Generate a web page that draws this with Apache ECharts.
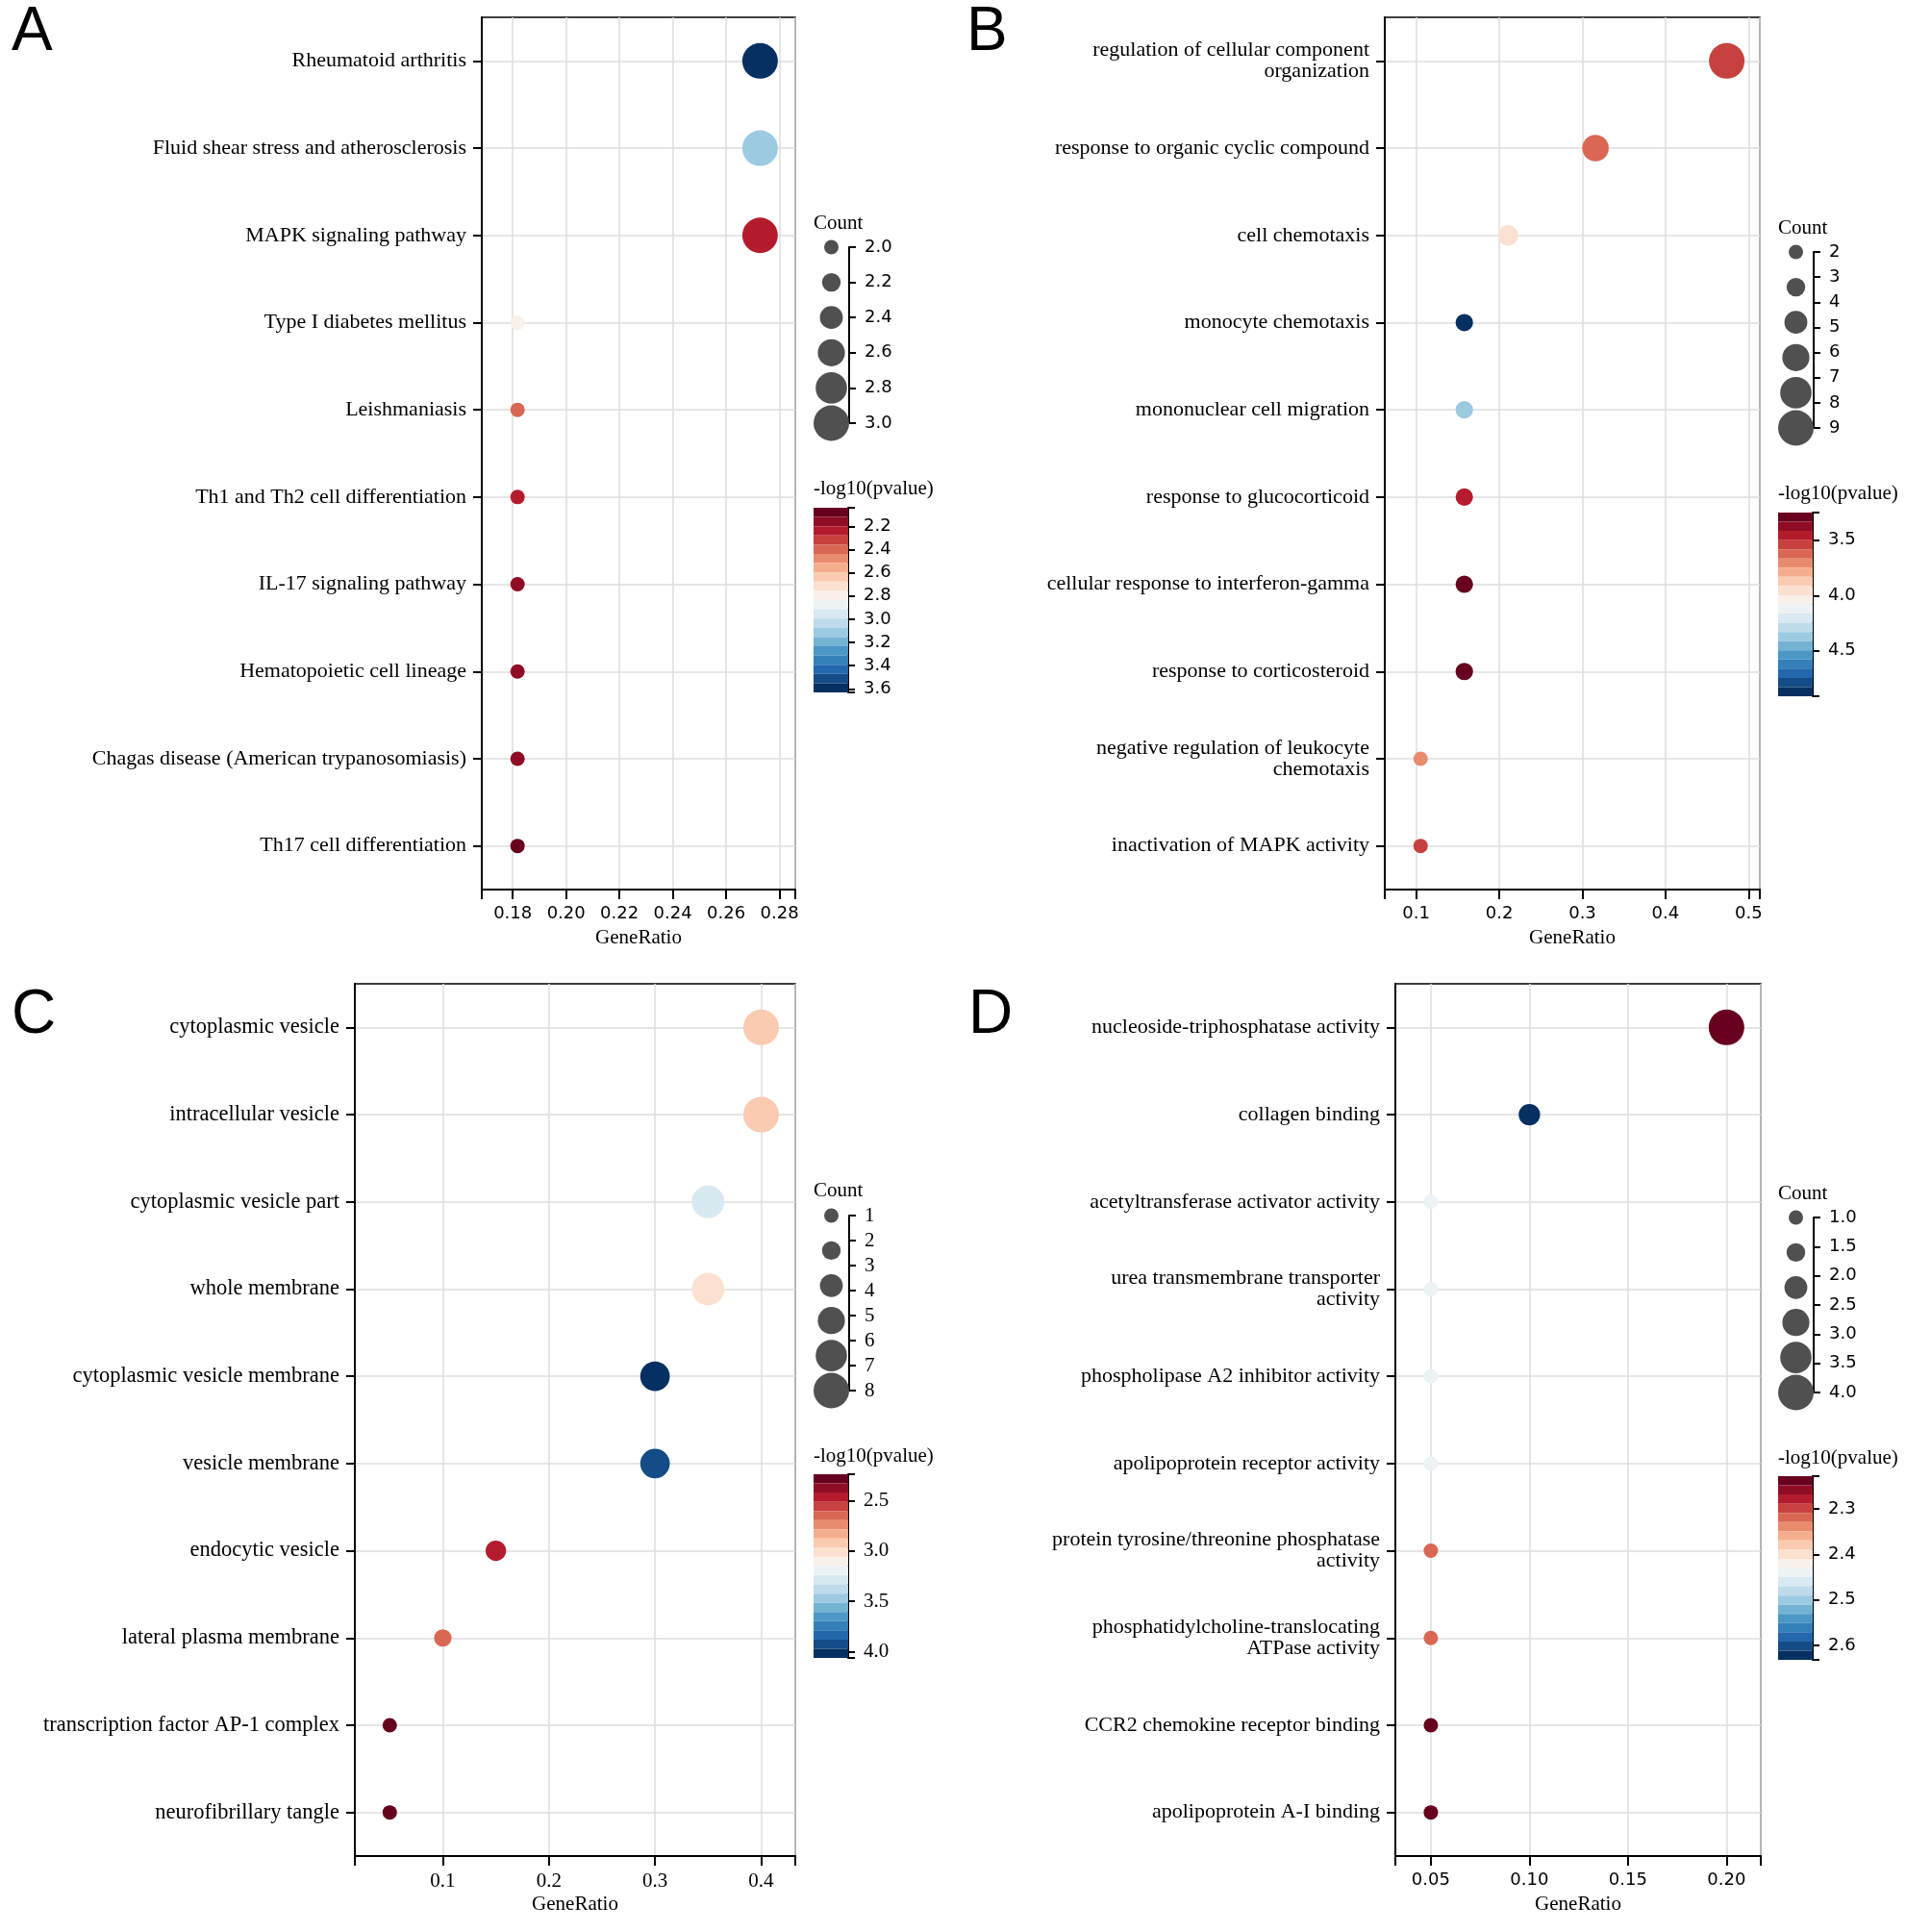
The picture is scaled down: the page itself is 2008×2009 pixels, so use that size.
<!DOCTYPE html>
<html>
<head>
<meta charset="utf-8">
<script src="https://cdn.jsdelivr.net/npm/echarts@6/dist/echarts.min.js"></script>
<style>
  html, body { margin: 0; padding: 0; background: #fff; }
  #chart { width: 2008px; height: 2009px; }
</style>
</head>
<body>
<div id="chart"></div>
<script>
// ---- panel A (KEGG) ----
const termsA = ['Rheumatoid arthritis', 'Fluid shear stress and atherosclerosis', 'MAPK signaling pathway',
  'Type I diabetes mellitus', 'Leishmaniasis', 'Th1 and Th2 cell differentiation', 'IL-17 signaling pathway',
  'Hematopoietic cell lineage', 'Chagas disease (American trypanosomiasis)', 'Th17 cell differentiation'];
const ratioA = [0.2727, 0.2727, 0.2727, 0.1818, 0.1818, 0.1818, 0.1818, 0.1818, 0.1818, 0.1818];
const countA = [3, 3, 3, 2, 2, 2, 2, 2, 2, 2];
const logpA = [3.63, 3.11, 2.22, 2.80, 2.37, 2.20, 2.19, 2.15, 2.13, 2.04];
const xTicksA = [0.18, 0.20, 0.22, 0.24, 0.26, 0.28];
const countTicksA = [2.0, 2.2, 2.4, 2.6, 2.8, 3.0];
const countKeysA = [2.0, 2.2, 2.4, 2.6, 2.8, 3.0];
const cbTicksA = [2.2, 2.4, 2.6, 2.8, 3.0, 3.2, 3.4, 3.6];

// ---- panel B (GO BP) ----
const termsB = ['regulation of cellular component\norganization', 'response to organic cyclic compound', 'cell chemotaxis',
  'monocyte chemotaxis', 'mononuclear cell migration', 'response to glucocorticoid',
  'cellular response to interferon-gamma', 'response to corticosteroid',
  'negative regulation of leukocyte\nchemotaxis', 'inactivation of MAPK activity'];
const ratioB = [0.4737, 0.3158, 0.2105, 0.1579, 0.1579, 0.1579, 0.1579, 0.1579, 0.1053, 0.1053];
const countB = [9, 6, 4, 3, 3, 3, 3, 3, 2, 2];
const logpB = [3.50, 3.63, 3.92, 4.91, 4.37, 3.42, 3.29, 3.25, 3.72, 3.53];
const xTicksB = [0.1, 0.2, 0.3, 0.4, 0.5];
const countTicksB = [2, 3, 4, 5, 6, 7, 8, 9];
const countKeysB = [2, 3.4, 4.8, 6.2, 7.6, 9];
const cbTicksB = [3.5, 4.0, 4.5];

// ---- panel C (GO CC) ----
const termsC = ['cytoplasmic vesicle', 'intracellular vesicle', 'cytoplasmic vesicle part', 'whole membrane',
  'cytoplasmic vesicle membrane', 'vesicle membrane', 'endocytic vesicle', 'lateral plasma membrane',
  'transcription factor AP-1 complex', 'neurofibrillary tangle'];
const ratioC = [0.40, 0.40, 0.35, 0.35, 0.30, 0.30, 0.15, 0.10, 0.05, 0.05];
const countC = [8, 8, 7, 7, 6, 6, 3, 2, 1, 1];
const logpC = [2.92, 2.92, 3.25, 3.05, 4.06, 3.93, 2.45, 2.68, 2.24, 2.24];
const xTicksC = [0.1, 0.2, 0.3, 0.4];
const countTicksC = [1, 2, 3, 4, 5, 6, 7, 8];
const countKeysC = [1, 2.4, 3.8, 5.2, 6.6, 8];
const cbTicksC = [2.5, 3.0, 3.5, 4.0];

// ---- panel D (GO MF) ----
const termsD = ['nucleoside-triphosphatase activity', 'collagen binding', 'acetyltransferase activator activity',
  'urea transmembrane transporter\nactivity', 'phospholipase A2 inhibitor activity', 'apolipoprotein receptor activity',
  'protein tyrosine/threonine phosphatase\nactivity', 'phosphatidylcholine-translocating\nATPase activity',
  'CCR2 chemokine receptor binding', 'apolipoprotein A-I binding'];
const ratioD = [0.20, 0.10, 0.05, 0.05, 0.05, 0.05, 0.05, 0.05, 0.05, 0.05];
const countD = [4, 2, 1, 1, 1, 1, 1, 1, 1, 1];
const logpD = [2.228, 2.632, 2.44, 2.44, 2.44, 2.44, 2.31, 2.31, 2.235, 2.235];
const xTicksD = [0.05, 0.10, 0.15, 0.20];
const countTicksD = [1.0, 1.5, 2.0, 2.5, 3.0, 3.5, 4.0];
const countKeysD = [1.0, 1.6, 2.2, 2.8, 3.4, 4.0];
const cbTicksD = [2.3, 2.4, 2.5, 2.6];

const rdbu = ['#67001f', '#b2182b', '#d6604d', '#f4a582', '#fddbc7', '#f7f7f7',
  '#d1e5f0', '#92c5de', '#4393c3', '#2166ac', '#053061'];
const SERIF = 'Liberation Serif';
const SANS = 'DejaVu Sans';

const panels = [
  { letter: 'A', terms: termsA, ratio: ratioA, count: countA, logp: logpA,
    xTicks: xTicksA, countTicks: countTicksA, countKeys: countKeysA, cbTicks: cbTicksA,
    grid: { left: 501, top: 18, width: 326, height: 907 }, xRange: [0.1684, 0.2859], xDigits: 2, countDigits: 1,
    tickFont: SANS, termSize: 22, lx: 846, countTop: 257, countH: 183, cbTop: 528, cbH: 192, countTitle: 232, cbTitle: 508,
    letterX: 12, letterY: 34 },
  { letter: 'B', terms: termsB, ratio: ratioB, count: countB, logp: logpB,
    xTicks: xTicksB, countTicks: countTicksB, countKeys: countKeysB, cbTicks: cbTicksB,
    grid: { left: 1440, top: 18, width: 390, height: 907 }, xRange: [0.0622, 0.5135], xDigits: 1, countDigits: 0,
    tickFont: SANS, termSize: 22, lx: 1849, countTop: 262, countH: 183, cbTop: 533, cbH: 191, countTitle: 237, cbTitle: 513,
    letterX: 1005, letterY: 34 },
  { letter: 'C', terms: termsC, ratio: ratioC, count: countC, logp: logpC,
    xTicks: xTicksC, countTicks: countTicksC, countKeys: countKeysC, cbTicks: cbTicksC,
    grid: { left: 369, top: 1023, width: 458, height: 907 }, xRange: [0.0171, 0.4322], xDigits: 1, countDigits: 0,
    tickFont: SERIF, termSize: 22.5, lx: 846, countTop: 1264, countH: 182, cbTop: 1533, cbH: 191, countTitle: 1238, cbTitle: 1514,
    letterX: 12, letterY: 1056 },
  { letter: 'D', terms: termsD, ratio: ratioD, count: countD, logp: logpD,
    xTicks: xTicksD, countTicks: countTicksD, countKeys: countKeysD, cbTicks: cbTicksD,
    grid: { left: 1451, top: 1023, width: 380, height: 907 }, xRange: [0.032, 0.2174], xDigits: 2, countDigits: 1,
    tickFont: SANS, termSize: 22, lx: 1849, countTop: 1266, countH: 182, cbTop: 1535, cbH: 191, countTitle: 1241, cbTitle: 1516,
    letterX: 1007, letterY: 1056 }
];

const grid = [], xAxis = [], yAxis = [], series = [], visualMap = [], graphic = [];
const black = '#000';

panels.forEach(function (p) {
  const cMin = Math.min.apply(null, p.count), cMax = Math.max.apply(null, p.count);
  const vMin = Math.min.apply(null, p.logp), vMax = Math.max.apply(null, p.logp);
  const size = function (c) { return 15 + (c - cMin) / (cMax - cMin) * 22; };
  const tickSize = p.tickFont === SERIF ? 21 : 18;

  // main dot plot
  const g = grid.length;
  grid.push(Object.assign({ show: true, borderColor: black, borderWidth: 1.5, backgroundColor: 'transparent' }, p.grid));
  xAxis.push({
    type: 'value', gridIndex: g, min: p.xRange[0], max: p.xRange[1],
    name: 'GeneRatio', nameLocation: 'middle', nameGap: 40,
    nameTextStyle: { fontFamily: SERIF, fontSize: 21, color: black },
    axisLine: { show: true, onZero: false, lineStyle: { color: black, width: 2 } },
    axisTick: { show: true, length: 10, lineStyle: { color: black, width: 2 },
      customValues: [p.xRange[0]].concat(p.xTicks, [p.xRange[1]]) },
    axisLabel: { customValues: p.xTicks, margin: 16, color: black, fontFamily: p.tickFont, fontSize: tickSize,
      formatter: function (v) { return v.toFixed(p.xDigits); } },
    splitLine: { show: true, lineStyle: { color: '#dedede', width: 1.5 } }
  });
  const idx = p.terms.map(function (t, i) { return i; });
  yAxis.push({
    type: 'value', gridIndex: g, min: -0.5, max: p.terms.length - 0.5, inverse: true,
    axisLine: { show: true, onZero: false, lineStyle: { color: black, width: 2 } },
    axisTick: { show: true, length: 9, lineStyle: { color: black, width: 2 }, customValues: idx },
    axisLabel: { customValues: idx, margin: 16, color: black, fontFamily: SERIF, fontSize: p.termSize, lineHeight: 22,
      formatter: function (v) { return p.terms[Math.round(v)]; } },
    splitLine: { show: true, lineStyle: { color: '#dedede', width: 1.5 } }
  });
  const si = series.length;
  series.push({
    type: 'scatter', xAxisIndex: g, yAxisIndex: g,
    data: p.terms.map(function (t, i) { return [p.ratio[i], i, p.count[i], p.logp[i]]; }),
    symbolSize: function (d) { return size(d[2]); },
    itemStyle: { opacity: 1 }
  });
  visualMap.push({
    type: 'piecewise', seriesIndex: si, dimension: 3, min: vMin, max: vMax, splitNumber: 20,
    orient: 'vertical', inverse: true, left: p.lx, top: p.cbTop,
    itemWidth: 36, itemHeight: p.cbH / 20, itemGap: 0, itemSymbol: 'rect',
    showLabel: false, padding: 0, selectedMode: false, hoverLink: false,
    inRange: { color: rdbu }
  });

  // Count size legend
  const gc = grid.length;
  grid.push({ left: p.lx, top: p.countTop, width: 37, height: p.countH });
  xAxis.push({ type: 'value', gridIndex: gc, min: 0, max: 1, show: false });
  yAxis.push({
    type: 'value', gridIndex: gc, position: 'right', min: cMin, max: cMax, inverse: true,
    axisLine: { show: true, onZero: false, lineStyle: { color: black, width: 2 } },
    axisTick: { show: true, length: 7, lineStyle: { color: black, width: 2 }, customValues: p.countTicks },
    axisLabel: { customValues: p.countTicks, margin: 16, color: black, fontFamily: p.tickFont, fontSize: tickSize,
      formatter: function (v) { return v.toFixed(p.countDigits); } },
    splitLine: { show: false }
  });
  series.push({
    type: 'scatter', xAxisIndex: gc, yAxisIndex: gc, silent: true,
    data: p.countKeys.map(function (c) { return [0.5, c]; }),
    symbolSize: function (d) { return size(d[1]); },
    itemStyle: { color: '#505050', opacity: 1 }
  });

  // colour bar ticks
  const gb = grid.length;
  grid.push({ left: p.lx, top: p.cbTop, width: 36, height: p.cbH });
  xAxis.push({ type: 'value', gridIndex: gb, min: 0, max: 1, show: false });
  yAxis.push({
    type: 'value', gridIndex: gb, position: 'right', min: vMin, max: vMax, inverse: true,
    axisLine: { show: true, onZero: false, lineStyle: { color: black, width: 2 } },
    axisTick: { show: true, length: 7, lineStyle: { color: black, width: 2 },
      customValues: [vMin].concat(p.cbTicks, [vMax]) },
    axisLabel: { customValues: p.cbTicks, margin: 16, color: black, fontFamily: p.tickFont, fontSize: tickSize,
      formatter: function (v) { return v.toFixed(1); } },
    splitLine: { show: false }
  });
  series.push({ type: 'scatter', xAxisIndex: gb, yAxisIndex: gb, data: [] });

  // texts
  graphic.push({ type: 'text', x: p.letterX, y: p.letterY,
    style: { text: p.letter, font: '64px "Liberation Sans"', fill: black, verticalAlign: 'middle' } });
  graphic.push({ type: 'text', x: p.lx, y: p.countTitle,
    style: { text: 'Count', font: '21px "Liberation Serif"', fill: black, verticalAlign: 'middle' } });
  graphic.push({ type: 'text', x: p.lx, y: p.cbTitle,
    style: { text: '-log10(pvalue)', font: '21px "Liberation Serif"', fill: black, verticalAlign: 'middle' } });
});

const chart = echarts.init(document.getElementById('chart'));
chart.setOption({
  animation: false,
  backgroundColor: '#fff',
  grid: grid,
  xAxis: xAxis,
  yAxis: yAxis,
  visualMap: visualMap,
  series: series,
  graphic: graphic
});
window.addEventListener('resize', function () { chart.resize(); });
</script>
</body>
</html>
